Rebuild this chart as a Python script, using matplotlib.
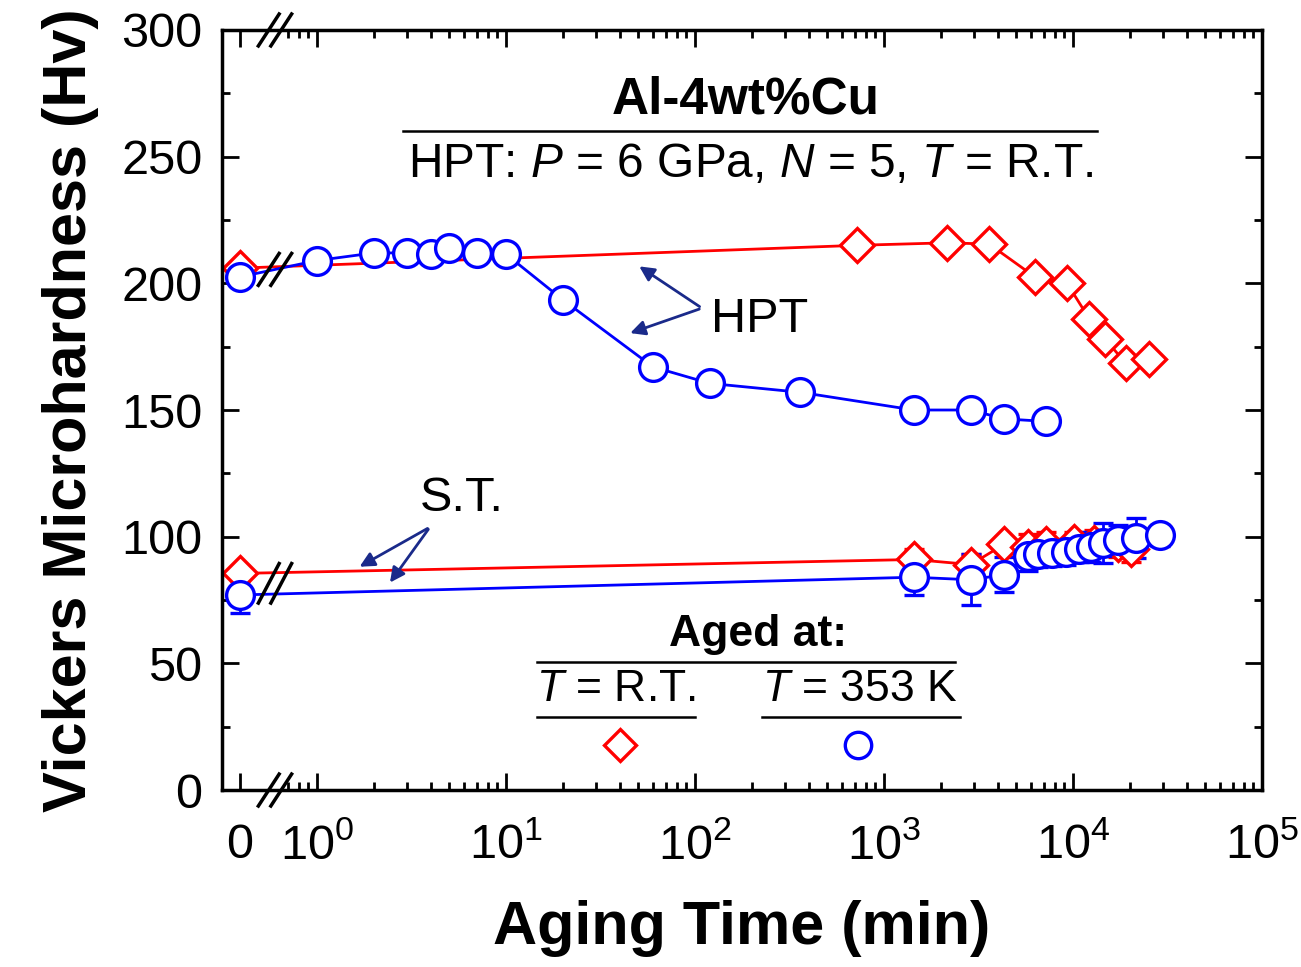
import numpy as np
import matplotlib
matplotlib.use('Agg')
import matplotlib.pyplot as plt
from matplotlib.lines import Line2D

plt.rcParams['font.family'] = ['Liberation Sans', 'DejaVu Sans']
plt.rcParams['mathtext.fontset'] = 'custom'
plt.rcParams['mathtext.rm'] = 'Liberation Sans'
plt.rcParams['mathtext.it'] = 'Liberation Sans:italic'
plt.rcParams['mathtext.bf'] = 'Liberation Sans:bold'

# aging time in minutes (0 = as-processed), hardness in Hv
hpt_rt_time = [0, 720, 2160, 3600, 6300, 9300, 12200, 14800, 19000, 25300]
hpt_rt_hv = [206, 215, 216, 215.5, 202.5, 200, 186, 178, 168.5, 170]

hpt_353_time = [0, 1, 2, 3, 4, 5, 7, 10, 20, 60, 120, 360, 1440, 2880, 4320, 7200]
hpt_353_hv = [202.5, 209, 212, 212, 211.5, 214, 212, 211.5, 193.5, 167, 160.5, 157, 150, 150, 146.5, 145.5]

st_rt_time = [0, 1440, 2880, 4320, 5760, 7200, 10080, 12960, 17280, 20160]
st_rt_hv = [85.5, 91, 89, 97, 96, 97, 98, 97.5, 97, 95]
st_rt_err = [3, 4, 4, 3, 5, 5, 4, 5, 5, 5]

st_353_time = [0, 1440, 2880, 4320, 5760, 6500, 7700, 9200, 10700, 12400, 14400, 17300, 21600, 28800]
st_353_hv = [77, 84, 83, 85, 92.5, 93, 93.5, 94, 95, 96, 97.5, 98.5, 99.5, 100.5]
st_353_err = [7, 7, 10, 7, 6, 5, 5, 5, 5, 6, 8, 6, 8, 4]

x_ticklabels = ['0', r'$\mathregular{10^0}$', r'$\mathregular{10^1}$', r'$\mathregular{10^2}$',
                r'$\mathregular{10^3}$', r'$\mathregular{10^4}$', r'$\mathregular{10^5}$']

RED = '#ff0000'
BLUE = '#0000ff'
NAVY = '#1a2a8a'
X0 = 10 ** -0.41  # where t = 0 sits on the log axis


def to_axis(t):
    return [X0 if v == 0 else v for v in t]


fig = plt.figure(figsize=(13.01, 9.67), dpi=100)
ax = fig.add_axes([0.1706, 0.183, 0.7994, 0.786])
ax.set_xscale('log')

mk = dict(markerfacecolor='white', markeredgewidth=2.4, linewidth=2.0)
ax.plot(to_axis(hpt_rt_time), hpt_rt_hv, marker='D', ms=17, color=RED, **mk)
ax.errorbar(to_axis(st_rt_time), st_rt_hv, yerr=st_rt_err, marker='D', ms=17, color=RED,
            capsize=7, elinewidth=2, capthick=2, **mk)
ax.plot(to_axis(hpt_353_time), hpt_353_hv, marker='o', ms=20, color=BLUE, **mk)
ax.errorbar(to_axis(st_353_time), st_353_hv, yerr=st_353_err, marker='o', ms=20, color=BLUE,
            capsize=7, elinewidth=2, capthick=2, **mk)

ax.set_xlim(10 ** -0.503, 1e5)
ax.set_ylim(0, 300)

ax.set_xticks([X0, 1, 10, 100, 1e3, 1e4, 1e5])
ax.set_xticklabels(x_ticklabels)
minors = [0.7, 0.8, 0.9] + [m * 10 ** k for k in range(5) for m in range(2, 10)]
ax.set_xticks(minors, minor=True)
ax.set_yticks(np.arange(0, 301, 50))
ax.set_yticks(np.arange(0, 301, 25), minor=True)

ax.tick_params(which='both', direction='in', top=True, right=True, labelsize=35, width=2)
ax.tick_params(which='major', length=12)
ax.tick_params(which='minor', length=6)
ax.tick_params(axis='x', which='major', pad=24)
ax.tick_params(axis='y', which='major', pad=14)
for s in ax.spines.values():
    s.set_linewidth(2.5)

ax.set_xlabel('Aging Time (min)', fontsize=44, fontweight='bold', labelpad=22)
ax.set_ylabel('Vickers Microhardness (Hv)', fontsize=44, fontweight='bold', labelpad=16)


def axis_break(xc, yc, w=0.010, h=0.021, gap=0.012):
    for dx in (-gap / 2, gap / 2):
        ax.add_line(Line2D([xc + dx - w, xc + dx + w], [yc - h, yc + h], color='black',
                           lw=2.5, transform=ax.transAxes, clip_on=False, zorder=6))


axis_break(0.051, 0.0)
axis_break(0.051, 1.0)
axis_break(0.051, 0.685)
axis_break(0.051, 0.272, h=0.026)

# header
ax.text(0.504, 0.908, 'Al-4wt%Cu', transform=ax.transAxes, ha='center', va='center',
        fontsize=37, fontweight='bold')
ax.add_line(Line2D([0.174, 0.841], [0.867, 0.867], color='black', lw=1.8, transform=ax.transAxes))
ax.text(0.508, 0.823, 'HPT: $P$ = 6 GPa, $N$ = 5, $T$ = R.T.', transform=ax.transAxes,
        ha='center', va='center', fontsize=34.5)

# HPT / S.T. pointers
ax.text(0.470, 0.619, 'HPT', transform=ax.transAxes, ha='left', va='center', fontsize=35)
arrow = dict(arrowstyle='-|>', color=NAVY, lw=2, mutation_scale=22)
for tip in [(0.399, 0.691), (0.390, 0.600)]:
    ax.annotate('', xy=tip, xytext=(0.4615, 0.634), xycoords='axes fraction', arrowprops=arrow)
ax.text(0.231, 0.384, 'S.T.', transform=ax.transAxes, ha='center', va='center', fontsize=35)
for tip in [(0.130, 0.292), (0.160, 0.270)]:
    ax.annotate('', xy=tip, xytext=(0.200, 0.346), xycoords='axes fraction', arrowprops=arrow)

# legend block
ax.text(0.515, 0.205, 'Aged at:', transform=ax.transAxes, ha='center', va='center',
        fontsize=32, fontweight='bold')
ax.add_line(Line2D([0.303, 0.705], [0.168, 0.168], color='black', lw=1.8, transform=ax.transAxes))
ax.text(0.379, 0.132, '$T$ = R.T.', transform=ax.transAxes, ha='center', va='center', fontsize=32)
ax.text(0.613, 0.132, '$T$ = 353 K', transform=ax.transAxes, ha='center', va='center', fontsize=32)
ax.add_line(Line2D([0.303, 0.455], [0.096, 0.096], color='black', lw=1.8, transform=ax.transAxes))
ax.add_line(Line2D([0.519, 0.710], [0.096, 0.096], color='black', lw=1.8, transform=ax.transAxes))
ax.add_line(Line2D([0.383], [0.059], marker='D', ms=16, color=RED, markerfacecolor='white',
                   markeredgewidth=2.4, transform=ax.transAxes))
ax.add_line(Line2D([0.6115], [0.059], marker='o', ms=19, color=BLUE, markerfacecolor='white',
                   markeredgewidth=2.4, transform=ax.transAxes))

fig.savefig('out.png', dpi=100)
